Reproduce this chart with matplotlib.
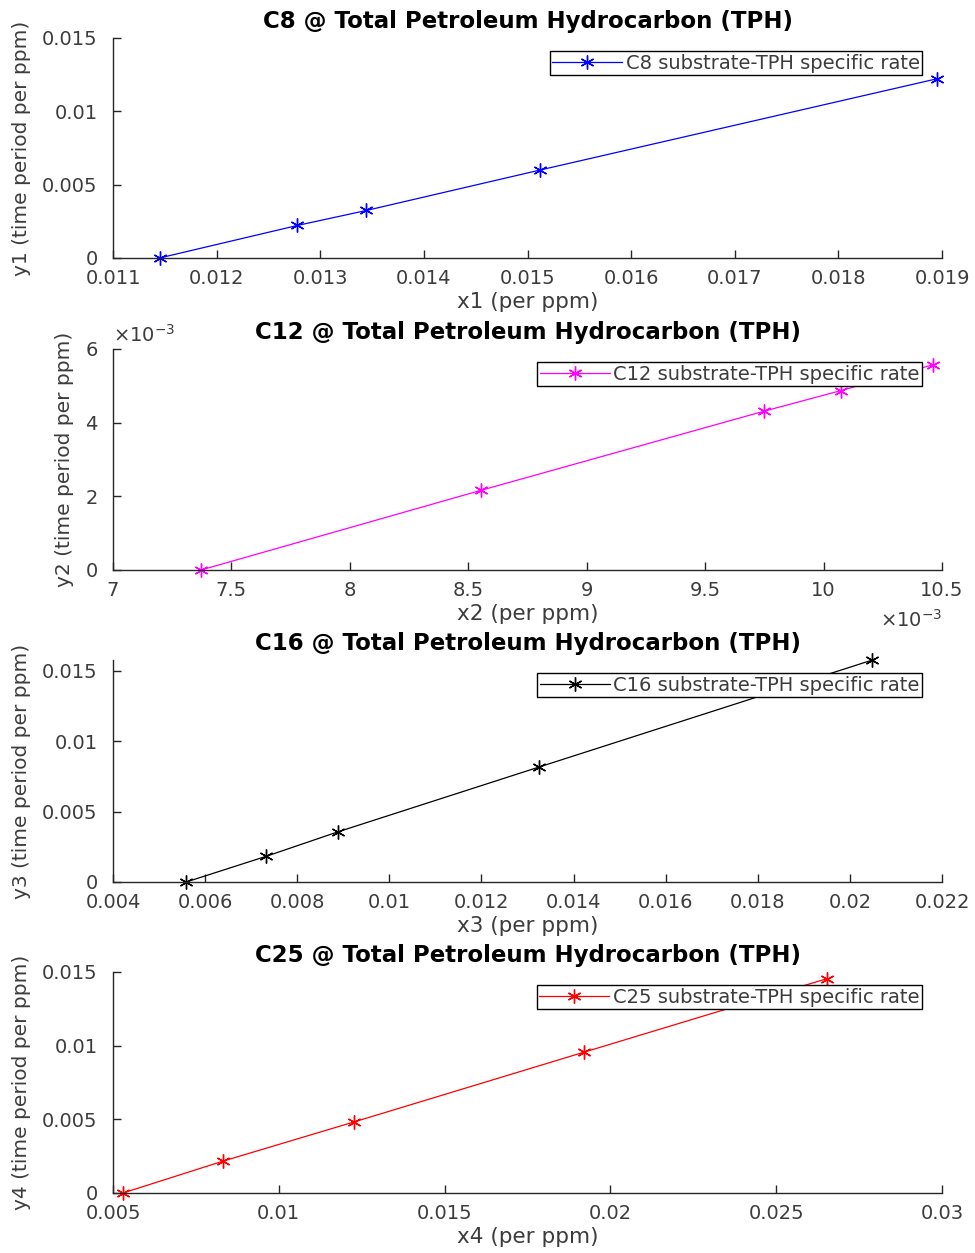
"""
Specific rate plots, C8 / C12 / C16 / C25 against TPH
"""
import numpy as np
import matplotlib
matplotlib.use('Agg')
import matplotlib.pyplot as plt
from matplotlib.ticker import FuncFormatter

# data
x1 = np.array([0.011449, 0.01278, 0.013445, 0.015123, 0.018952])
y1 = np.array([0.0, 0.00222, 0.00324, 0.00600, 0.01222])

x2 = np.array([7.372e-3, 8.552e-3, 9.748e-3, 10.073e-3, 10.461e-3])
y2 = np.array([0.0, 2.16e-3, 4.31e-3, 4.87e-3, 5.57e-3])

x3 = np.array([0.005591, 0.00733, 0.00888, 0.01325, 0.02049])
y3 = np.array([0.0, 0.00183, 0.00356, 0.00817, 0.01578])

x4 = np.array([0.0053, 0.008315, 0.012266, 0.019195, 0.026536])
y4 = np.array([0.0, 0.00216, 0.00482, 0.00955, 0.01455])

species = ['C8', 'C12', 'C16', 'C25']
colors = ['#0000ff', '#ff00ff', '#000000', '#ff0000']

xticks = [np.arange(0.011, 0.0191, 0.001),
          np.arange(7e-3, 10.51e-3, 0.5e-3),
          np.arange(0.004, 0.0221, 0.002),
          np.arange(0.005, 0.0301, 0.005)]
yticks = [[0, 0.005, 0.01, 0.015],
          [0, 2e-3, 4e-3, 6e-3],
          [0, 0.005, 0.01, 0.015],
          [0, 0.005, 0.01, 0.015]]
xlims = [(0.011, 0.019), (7e-3, 10.5e-3), (0.004, 0.022), (0.005, 0.03)]
ylims = [(0, 0.015), (0, 6e-3), (0, y3.max()), (0, 0.015)]

GREY = '#262626'
TXT = '#3c3c3c'

plt.rcParams['font.family'] = 'DejaVu Sans'

fig = plt.figure(figsize=(9.75, 12.53), dpi=100)

# axes boxes in figure fractions (left, bottom, width, height)
boxes = [(0.1159, 0.7941, 0.8503, 0.1756),
         (0.1159, 0.5451, 0.8503, 0.1764),
         (0.1159, 0.2961, 0.8503, 0.1772),
         (0.1159, 0.0479, 0.8503, 0.1764)]

data = [(x1, y1), (x2, y2), (x3, y3), (x4, y4)]

for i, (xs, ys) in enumerate(data):
    ax = fig.add_axes(boxes[i])
    n = i + 1
    ax.plot(xs, ys, color=colors[i], lw=0.9, marker=(6, 2, 0),
            markersize=10, markeredgewidth=1.0, clip_on=False,
            label='%s substrate-TPH specific rate' % species[i])
    ax.set_xlim(*xlims[i])
    ax.set_ylim(*ylims[i])
    ax.set_xticks(xticks[i])
    ax.set_yticks(yticks[i])

    if i == 1:
        # MATLAB style exponent labels
        fmt = FuncFormatter(lambda v, p: '%g' % round(v * 1e3, 6))
        ax.xaxis.set_major_formatter(fmt)
        ax.yaxis.set_major_formatter(fmt)
        ax.text(0.0, 1.015, r'$\times\mathregular{10^{-3}}$', transform=ax.transAxes,
                ha='left', va='bottom', fontsize=14, color=TXT)
        ax.text(1.0, -0.175, r'$\times\mathregular{10^{-3}}$', transform=ax.transAxes,
                ha='right', va='top', fontsize=14, color=TXT)
    else:
        fmt = FuncFormatter(lambda v, p: '%g' % round(v, 6))
        ax.xaxis.set_major_formatter(fmt)
        ax.yaxis.set_major_formatter(fmt)

    for side in ['top', 'right']:
        ax.spines[side].set_visible(False)
    for side in ['left', 'bottom']:
        ax.spines[side].set_color(GREY)
        ax.spines[side].set_linewidth(1.0)
    ax.tick_params(direction='in', length=6, width=1.0, colors=GREY,
                   labelcolor=TXT, labelsize=14)
    ax.tick_params(axis='x', pad=8)
    ax.tick_params(axis='y', pad=11)

    ax.set_xlabel('x%d (per ppm)' % n, fontsize=15.5, color=TXT, labelpad=3)
    ax.set_ylabel('y%d (time period per ppm)' % n, fontsize=14.5, color=TXT,
                  labelpad=8)
    ax.set_title('%s @ Total Petroleum Hydrocarbon (TPH)' % species[i],
                 fontsize=16.5, fontweight='bold', color='black', pad=7)

    leg = ax.legend(loc='upper right', bbox_to_anchor=(0.976, 0.94),
                    fontsize=14, frameon=True, fancybox=False,
                    framealpha=1, edgecolor='black', handlelength=3.6,
                    borderpad=0.12, borderaxespad=0, handletextpad=0.2,
                    labelcolor=TXT)
    leg.get_frame().set_linewidth(1.0)

fig.savefig('out.png', dpi=100)
